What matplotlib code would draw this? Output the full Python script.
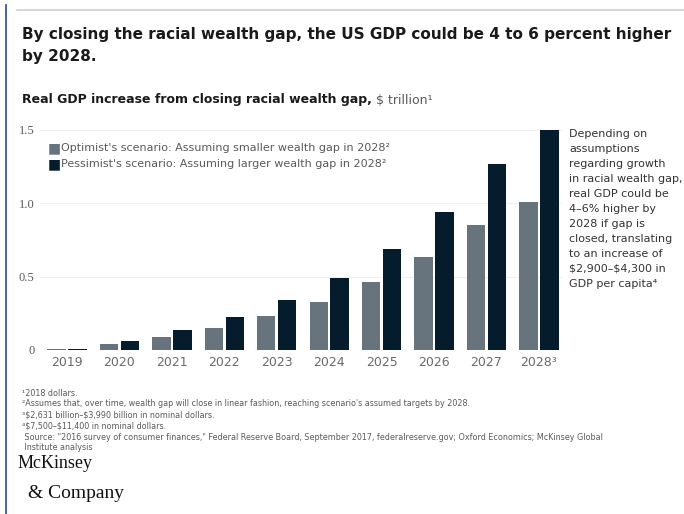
import matplotlib.pyplot as plt
import numpy as np

# Real GDP increase from closing the racial wealth gap, $ trillion
years = ["2019", "2020", "2021", "2022", "2023", "2024", "2025", "2026", "2027", "2028³"]
optimist = [0.005, 0.041, 0.086, 0.148, 0.23, 0.33, 0.464, 0.636, 0.855, 1.01]
pessimist = [0.01, 0.064, 0.136, 0.223, 0.34, 0.49, 0.69, 0.943, 1.268, 1.5]
yticks = [0, 0.5, 1.0, 1.5]
ytick_labels = ["0", "0.5", "1.0", "1.5"]

opt_color = "#67747D"
pess_color = "#051C2C"
grey_text = "#5A5A5A"

fig = plt.figure(figsize=(6.84, 5.14), dpi=100)
fig.patch.set_facecolor("white")

# frame decorations
fig.add_artist(plt.Line2D([6 / 684, 6 / 684], [0, 1 - 5 / 514], color="#2B4A8B", lw=1.2))
fig.add_artist(plt.Line2D([17 / 684, 1], [1 - 10 / 514, 1 - 10 / 514], color="#D0D0D0", lw=1.2))

ax = fig.add_axes([40 / 684, (514 - 350) / 514, (562 - 40) / 684, 220 / 514])
x = np.arange(len(years))
w = 0.35
ax.bar(x - 0.2, optimist, width=w, color=opt_color, clip_on=False, zorder=3)
ax.bar(x + 0.2, pessimist, width=w, color=pess_color, clip_on=False, zorder=3)

ax.set_xlim(-0.515, 9.44)
ax.set_ylim(0, 1.5)
ax.set_xticks(x)
ax.set_xticklabels(years, fontsize=9, color="#6A6A6A")
ax.set_yticks(yticks)
ax.set_yticklabels(ytick_labels, fontsize=9, color=grey_text, family="Liberation Serif")
ax.tick_params(axis="both", length=0)
ax.tick_params(axis="x", pad=4)
ax.tick_params(axis="y", pad=4)
for s in ax.spines.values():
    s.set_visible(False)
ax.grid(axis="y", color="#F0F0F0", lw=0.8, zorder=0)
ax.axhline(0, color="#E6E6E6", lw=0.8, ls=":", zorder=1)

# legend drawn as square markers with text
for i, (lab, col) in enumerate([
    ("Optimist's scenario: Assuming smaller wealth gap in 2028²", opt_color),
    ("Pessimist's scenario: Assuming larger wealth gap in 2028²", pess_color),
]):
    yy = 1 - (148 + i * 16) / 514
    fig.text(48 / 684, yy, "■", color=col, fontsize=10, va="center", ha="left")
    fig.text(61 / 684, yy, lab, color=grey_text, fontsize=8.0, va="center", ha="left")

# side note
note = ("Depending on\nassumptions\nregarding growth\nin racial wealth gap,\nreal GDP could be\n"
        "4–6% higher by\n2028 if gap is\nclosed, translating\nto an increase of\n"
        "\\$2,900–\\$4,300 in\nGDP per capita⁴")
fig.text(569 / 684, 1 - 129 / 514, note, fontsize=8.0, color="#333333", va="top", ha="left",
         linespacing=1.62)

# titles
fig.text(22 / 684, 1 - 27 / 514,
         "By closing the racial wealth gap, the US GDP could be 4 to 6 percent higher\nby 2028.",
         fontsize=11.0, fontweight="semibold", color="#1A1A1A", va="top", ha="left",
         linespacing=1.55)
t = fig.text(22 / 684, 1 - 100 / 514, "Real GDP increase from closing racial wealth gap,",
             fontsize=9, fontweight="bold", color="#1A1A1A", va="center", ha="left")
fig.canvas.draw()
bb = t.get_window_extent()
fig.text((bb.x1 + 4) / 684, 1 - 100 / 514, "\\$ trillion¹", fontsize=9, color=grey_text,
         va="center", ha="left")

# footnotes
notes = [
    "¹2018 dollars.",
    "²Assumes that, over time, wealth gap will close in linear fashion, reaching scenario's assumed targets by 2028.",
    "³\\$2,631 billion–\\$3,990 billion in nominal dollars.",
    "⁴\\$7,500–\\$11,400 in nominal dollars.",
    " Source: \"2016 survey of consumer finances,\" Federal Reserve Board, September 2017, federalreserve.gov; Oxford Economics; McKinsey Global",
    " Institute analysis",
]
for i, line in enumerate(notes):
    fig.text(22 / 684, 1 - (393 + i * 11) / 514, line, fontsize=5.8, color=grey_text,
             va="center", ha="left")

# logo
fig.text(18 / 684, 1 - 463 / 514, "McKinsey", family="Liberation Serif", fontsize=13,
         color="#111111", va="center", ha="left")
fig.text(28 / 684, 1 - 494 / 514, "& Company", family="Liberation Serif", fontsize=14,
         color="#111111", va="center", ha="left")

fig.savefig("out.png", dpi=100)
